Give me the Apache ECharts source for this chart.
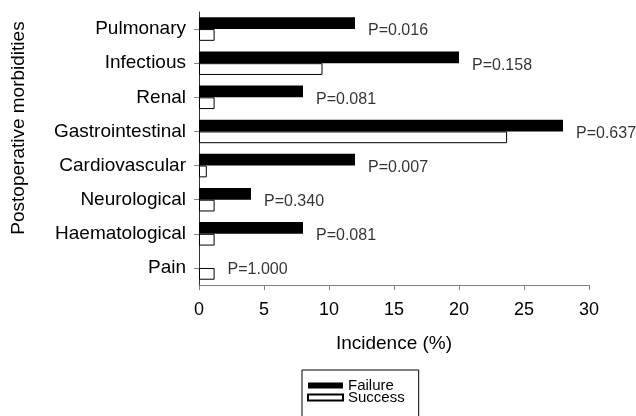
<!DOCTYPE html>
<html>
<head>
<meta charset="utf-8">
<script src="https://cdn.jsdelivr.net/npm/echarts@6/dist/echarts.min.js"></script>
<style>
  html, body { margin: 0; padding: 0; background: #fff; }
  #chart { width: 636px; height: 416px; }
</style>
</head>
<body>
<div id="chart"></div>
<script>
const categories = ['Pulmonary', 'Infectious', 'Renal', 'Gastrointestinal', 'Cardiovascular', 'Neurological', 'Haematological', 'Pain']
const failure = [12, 20, 8, 28, 12, 4, 8, 0]
const success = [1.2, 9.5, 1.2, 23.7, 0.6, 1.2, 1.2, 1.2]
const pValues = ['P=0.016', 'P=0.158', 'P=0.081', 'P=0.637', 'P=0.007', 'P=0.340', 'P=0.081', 'P=1.000']
const xTicks = { min: 0, max: 30, interval: 5 }

const font = '"Liberation Sans", Arial, sans-serif'

// p-value labels sit just past the longer of the two bars
const pData = categories.map((c, i) => ({
    value: [Math.max(failure[i], success[i]), i],
    label: { formatter: pValues[i] },
}))

const chart = echarts.init(document.getElementById('chart'))

chart.setOption({
    animation: false,
    textStyle: { fontFamily: font, color: '#000' },
    grid: { left: 199, right: 47, top: 12, bottom: 131 },
    legend: {
        data: ['Failure', 'Success'],
        orient: 'vertical',
        left: 302,
        top: 370,
        height: 30,
        padding: [8, 14, 20, 5],
        borderColor: '#000',
        borderWidth: 1,
        itemWidth: 35,
        itemHeight: 6,
        itemGap: -3,
        icon: 'rect',
        textStyle: { fontFamily: font, fontSize: 15, lineHeight: 14, color: '#000' },
    },
    xAxis: {
        type: 'value',
        min: xTicks.min,
        max: xTicks.max,
        interval: xTicks.interval,
        name: 'Incidence (%)',
        nameLocation: 'middle',
        nameGap: 49,
        nameTextStyle: { fontFamily: font, fontSize: 19, color: '#000' },
        axisLine: { show: true, lineStyle: { color: '#808080', width: 1 } },
        axisTick: { show: true, length: 5, lineStyle: { color: '#808080' } },
        axisLabel: { fontFamily: font, fontSize: 18, color: '#000', margin: 16 },
        splitLine: { show: false },
    },
    yAxis: {
        type: 'category',
        data: categories,
        inverse: true,
        axisLine: { show: true, lineStyle: { color: '#333', width: 1 } },
        axisTick: { show: true, alignWithLabel: true, length: 5, lineStyle: { color: '#808080' } },
        axisLabel: { fontFamily: font, fontSize: 19, color: '#000', margin: 13 },
    },
    graphic: [{
        type: 'text',
        x: 19,
        y: 128,
        rotation: Math.PI / 2,
        style: {
            text: 'Postoperative morbidities',
            font: '19px ' + font,
            fill: '#000',
            align: 'center',
            verticalAlign: 'middle',
        },
    }],
    series: [
        {
            name: 'Failure',
            type: 'bar',
            data: failure,
            barGap: '0%',
            barCategoryGap: '31%',
            itemStyle: { color: '#000', borderColor: '#000', borderWidth: 0 },
        },
        {
            name: 'Success',
            type: 'bar',
            data: success,
            itemStyle: { color: '#fff', borderColor: '#000', borderWidth: 1 },
        },
        {
            name: 'p',
            type: 'scatter',
            data: pData,
            symbolSize: 0,
            silent: true,
            label: {
                show: true,
                position: 'right',
                distance: 13,
                offset: [0, 2],
                fontFamily: font,
                fontSize: 16,
                color: '#000',
            },
        },
    ],
})
</script>
</body>
</html>
